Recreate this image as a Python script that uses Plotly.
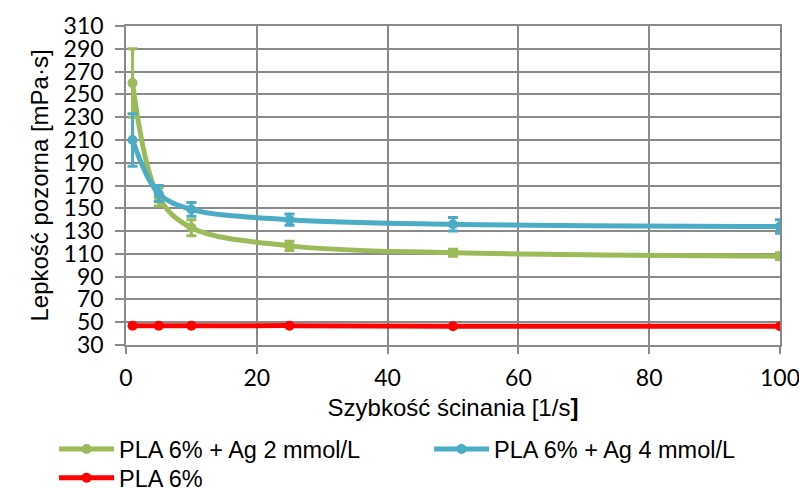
import plotly.graph_objects as go

shear_rate = [1, 5, 10, 25, 50, 100]
ag2_visc = [260, 160, 133, 117, 111, 108]
ag2_err = [30, 8, 7, 4, 3, 3]
ag4_visc = [210, 163, 149, 140, 136, 134]
ag4_err = [23, 7, 6, 5, 6, 6]
pla_visc = [47, 47, 47, 47, 46.5, 46.5]

names = ["PLA 6% + Ag 2 mmol/L", "PLA 6% + Ag 4 mmol/L", "PLA 6%"]
colors = ["#9BBB59", "#4BACC6", "#FF0000"]

fig = go.Figure()
fig.add_trace(go.Scatter(
    x=shear_rate, y=ag2_visc, name=names[0], mode="lines+markers",
    line=dict(color=colors[0], width=5, shape="spline", smoothing=1),
    marker=dict(size=10, color=colors[0]),
    error_y=dict(type="data", array=ag2_err, color=colors[0], thickness=3, width=5),
    legend="legend",
))
fig.add_trace(go.Scatter(
    x=shear_rate, y=ag4_visc, name=names[1], mode="lines+markers",
    line=dict(color=colors[1], width=5, shape="spline", smoothing=1),
    marker=dict(size=10, color=colors[1]),
    error_y=dict(type="data", array=ag4_err, color=colors[1], thickness=3, width=5),
    legend="legend",
))
fig.add_trace(go.Scatter(
    x=shear_rate, y=pla_visc, name=names[2], mode="lines+markers",
    line=dict(color=colors[2], width=5, shape="spline", smoothing=1),
    marker=dict(size=10, color=colors[2]),
    legend="legend2",
))

grid = "#8A8A8A"
legend_common = dict(
    orientation="h", xref="paper", yref="paper",
    x=-0.110, xanchor="left", yanchor="top",
    entrywidth=305, entrywidthmode="pixels",
    font=dict(family="Liberation Sans, Arial", size=23.5),
    traceorder="normal", itemwidth=55, tracegroupgap=0,
    bgcolor="rgba(0,0,0,0)",
)
fig.update_layout(
    width=799, height=488,
    margin=dict(l=126, r=19, t=26, b=143, autoexpand=False),
    paper_bgcolor="white", plot_bgcolor="white",
    font=dict(family="Liberation Sans, Arial", color="black", size=23),
    showlegend=True,
    legend=dict(legend_common, y=-0.258),
    legend2=dict(legend_common, y=-0.348),
    xaxis=dict(
        range=[0, 100], dtick=20, tick0=0,
        showgrid=True, gridcolor=grid, gridwidth=1.5,
        showline=True, linecolor=grid, linewidth=1.5, mirror=True,
        ticks="outside", ticklen=7, tickcolor=grid, tickwidth=1.5,
        ticklabelstandoff=5, ticklabeloverflow="allow",
        tickfont=dict(family="Lato", size=23),
        title=dict(text="Szybkość ścinania [1/s<b>]</b>", standoff=9,
                   font=dict(family="Liberation Sans, Arial", size=24)),
        zeroline=False,
    ),
    yaxis=dict(
        range=[30, 310], dtick=20, tick0=30,
        showgrid=True, gridcolor=grid, gridwidth=1.5,
        showline=True, linecolor=grid, linewidth=1.5, mirror=True,
        ticks="outside", ticklen=9, tickcolor=grid, tickwidth=1.5,
        ticklabelstandoff=7,
        tickfont=dict(family="Lato", size=23),
        title=dict(text="Lepkość pozorna [mPa·s]", standoff=8,
                   font=dict(family="Liberation Sans, Arial", size=24)),
        zeroline=False,
    ),
)

fig.write_html("out.html")
